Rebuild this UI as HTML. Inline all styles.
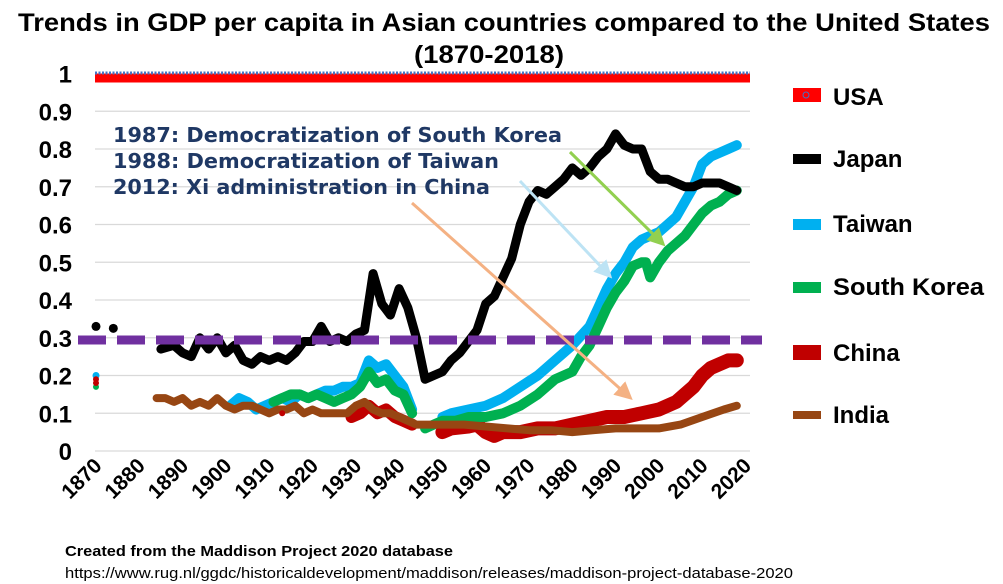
<!DOCTYPE html>
<html><head><meta charset="utf-8">
<style>
html,body{margin:0;padding:0;background:#fff;}
svg{display:block;font-family:"Liberation Sans",Arial,sans-serif;}
</style></head>
<body>
<svg id="c" width="1003" height="584" viewBox="0 0 1003 584" xmlns="http://www.w3.org/2000/svg">
<text x="18" y="31" font-size="25" font-weight="bold" textLength="972" lengthAdjust="spacingAndGlyphs">Trends in GDP per capita in Asian countries compared to the United States</text>
<text x="414" y="63" font-size="25" font-weight="bold" textLength="150" lengthAdjust="spacingAndGlyphs">(1870-2018)</text>
<g id="grid" stroke="#d9d9d9" stroke-width="1.3"></g>
<g id="ylab" font-size="24" font-weight="bold" text-anchor="end"></g>
<g id="xlab" font-size="21" font-weight="bold" text-anchor="end"></g>
<line x1="95" y1="78" x2="750" y2="78" stroke="#ff0000" stroke-width="9"/>
<line x1="95" y1="73" x2="750" y2="73" stroke="#4472c4" stroke-width="3" stroke-dasharray="2 1.5"/>
<g id="series" fill="none" stroke-linejoin="round" stroke-linecap="round"></g>
<line x1="78" y1="340" x2="762" y2="340" stroke="#7030a0" stroke-width="9" stroke-dasharray="28 11"/>
<g font-family="'DejaVu Sans',sans-serif" font-size="20" font-weight="bold" fill="#1f3864">
<text x="113" y="142" textLength="449" lengthAdjust="spacingAndGlyphs">1987: Democratization of South Korea</text>
<text x="113" y="168" textLength="386" lengthAdjust="spacingAndGlyphs">1988: Democratization of Taiwan</text>
<text x="113" y="194" textLength="377" lengthAdjust="spacingAndGlyphs">2012: Xi administration in China</text>
</g>
<defs>
<marker id="ab" markerWidth="6" markerHeight="6" refX="3" refY="3" orient="auto" markerUnits="strokeWidth"><path d="M0,0 L6,3 L0,6 z" fill="#bde3f4"/></marker>
<marker id="ag" markerWidth="6" markerHeight="6" refX="3" refY="3" orient="auto" markerUnits="strokeWidth"><path d="M0,0 L6,3 L0,6 z" fill="#92d050"/></marker>
<marker id="ao" markerWidth="6" markerHeight="6" refX="3" refY="3" orient="auto" markerUnits="strokeWidth"><path d="M0,0 L6,3 L0,6 z" fill="#f4b183"/></marker>
</defs>
<line x1="520" y1="181" x2="606" y2="272" stroke="#bde3f4" stroke-width="3" marker-end="url(#ab)"/>
<line x1="570" y1="152" x2="659" y2="240" stroke="#92d050" stroke-width="3" marker-end="url(#ag)"/>
<line x1="412" y1="203" x2="626" y2="394" stroke="#f4b183" stroke-width="3" marker-end="url(#ao)"/>
<g font-size="24" font-weight="bold">
<rect x="793" y="88" width="28" height="14" fill="#ff0000"/><circle cx="806" cy="95" r="3" fill="none" stroke="#4472c4" stroke-width="1"/>
<text x="833" y="105">USA</text>
<rect x="793" y="154" width="28" height="10" fill="#000"/><text x="833" y="167">Japan</text>
<rect x="793" y="219" width="28" height="11" fill="#00b0f0"/><text x="833" y="232">Taiwan</text>
<rect x="793" y="282" width="28" height="11" fill="#00b050"/><text x="833" y="295" textLength="151" lengthAdjust="spacingAndGlyphs">South Korea</text>
<rect x="793" y="345" width="28" height="15" fill="#c00000"/><text x="833" y="361">China</text>
<rect x="793" y="411" width="28" height="8" fill="#974613"/><text x="833" y="423">India</text>
</g>
<text x="65" y="556" font-size="15" font-weight="bold" textLength="388" lengthAdjust="spacingAndGlyphs">Created from the Maddison Project 2020 database</text>
<text x="65" y="578" font-size="15" textLength="728" lengthAdjust="spacingAndGlyphs">https://www.rug.nl/ggdc/historicaldevelopment/maddison/releases/maddison-project-database-2020</text>
</svg>
<script>
var NS="http://www.w3.org/2000/svg";
function X(y){return 96+(y-1870)*4.33;}
function Y(v){return 451-v*377.5;}
function el(p,t,a,txt){var e=document.createElementNS(NS,t);for(var k in a)e.setAttribute(k,a[k]);if(txt)e.textContent=txt;document.getElementById(p).appendChild(e);return e;}
for(var i=0;i<=9;i++){el("grid","line",{x1:95,x2:750,y1:Y(i/10),y2:Y(i/10)});}
for(var i=0;i<=10;i++){var l=i==0?"0":i==10?"1":"0."+i;el("ylab","text",{x:72,y:Y(i/10)+9},l);}
for(var y=1870;y<=2020;y+=10){var x=X(y)+7;el("xlab","text",{x:x,y:467,transform:"rotate(-45 "+x+" 467)"},String(y));}
function P(d){var s="";for(var i=0;i<d.length;i+=2)s+=(i?"L":"M")+X(d[i]).toFixed(1)+","+Y(d[i+1]).toFixed(1);return s;}
function line(d,c,w){el("series","path",{d:P(d),stroke:c,"stroke-width":w});}
function dot(y,v,c,r){el("series","circle",{cx:X(y),cy:Y(v),r:r,fill:c});}
var india=[1884,.14,1886,.14,1888,.13,1890,.14,1892,.12,1894,.13,1896,.12,1898,.14,1900,.12,1902,.11,1904,.12,1906,.12,1908,.11,1910,.1,1912,.11,1914,.11,1916,.12,1918,.1,1920,.11,1922,.1,1924,.1,1926,.1,1928,.1,1930,.12,1932,.13,1934,.11,1936,.1,1938,.1,1940,.09,1942,.08,1944,.07,1946,.07,1950,.07,1955,.07,1960,.065,1965,.06,1970,.055,1975,.055,1980,.05,1985,.055,1990,.06,1995,.06,2000,.06,2005,.07,2010,.09,2015,.11,2018,.12];
var china1=[1929,.09,1931,.1,1933,.12,1935,.1,1937,.11,1939,.09,1941,.08,1943,.07];
var china2=[1950,.05,1952,.06,1956,.065,1958,.07,1960,.05,1962,.04,1964,.05,1968,.05,1972,.06,1976,.06,1980,.07,1984,.08,1988,.09,1992,.09,1996,.1,2000,.11,2004,.13,2008,.17,2010,.2,2012,.22,2014,.23,2016,.24,2018,.24];
var kor1=[1911,.13,1913,.14,1915,.15,1917,.15,1919,.14,1921,.15,1923,.14,1925,.13,1927,.14,1929,.15,1931,.17,1933,.21,1935,.18,1937,.19,1939,.16,1941,.15,1943,.1];
var kor2=[1946,.06,1948,.07,1950,.08,1953,.08,1956,.09,1960,.09,1964,.1,1968,.12,1972,.15,1976,.19,1980,.21,1982,.25,1984,.28,1986,.33,1988,.38,1990,.42,1992,.45,1994,.49,1996,.5,1997,.5,1998,.46,2000,.5,2002,.53,2004,.55,2006,.57,2008,.6,2010,.63,2012,.65,2014,.66,2016,.68,2018,.69];
var tw1=[1901,.12,1903,.14,1905,.13,1907,.11,1909,.12,1911,.13,1913,.14,1915,.13,1917,.15,1919,.14,1921,.15,1923,.16,1925,.16,1927,.17,1929,.17,1931,.18,1933,.24,1935,.22,1937,.23,1939,.2,1941,.17,1943,.11];
var tw2=[1950,.09,1952,.1,1956,.11,1960,.12,1964,.14,1968,.17,1972,.2,1976,.24,1980,.28,1984,.33,1986,.38,1988,.43,1990,.47,1992,.5,1994,.54,1996,.56,1998,.57,2000,.58,2002,.6,2004,.62,2006,.66,2008,.7,2010,.76,2012,.78,2014,.79,2016,.8,2018,.81];
var jp=[1885,.27,1888,.28,1890,.26,1892,.25,1894,.3,1896,.27,1898,.3,1900,.26,1902,.28,1904,.24,1906,.23,1908,.25,1910,.24,1912,.25,1914,.24,1916,.26,1918,.29,1920,.29,1922,.33,1924,.29,1926,.3,1928,.29,1930,.31,1932,.32,1934,.47,1936,.39,1938,.36,1940,.43,1942,.38,1944,.3,1946,.19,1948,.2,1950,.21,1952,.24,1954,.26,1956,.29,1958,.32,1960,.39,1962,.41,1964,.46,1966,.51,1968,.6,1970,.66,1972,.69,1974,.68,1976,.7,1978,.72,1980,.75,1982,.73,1984,.75,1986,.78,1988,.8,1990,.84,1992,.81,1994,.8,1996,.8,1998,.74,2000,.72,2002,.72,2004,.71,2006,.7,2008,.7,2010,.71,2012,.71,2014,.71,2016,.7,2018,.69];
line(china1,"#c00000",12);line(china2,"#c00000",14);
line(tw1,"#00b0f0",10);line(tw2,"#00b0f0",10);
line(kor1,"#00b050",10);line(kor2,"#00b050",10);
line(india,"#974613",8);
line(jp,"#000",9);
dot(1870,.33,"#000",4.5);dot(1874,.325,"#000",4.5);
dot(1870,.2,"#00b0f0",3.5);dot(1870,.19,"#c00000",3);dot(1870,.17,"#00b050",3);dot(1870,.18,"#c00000",3);
dot(1913,.1,"#c00000",3);
</script>
</body></html>
